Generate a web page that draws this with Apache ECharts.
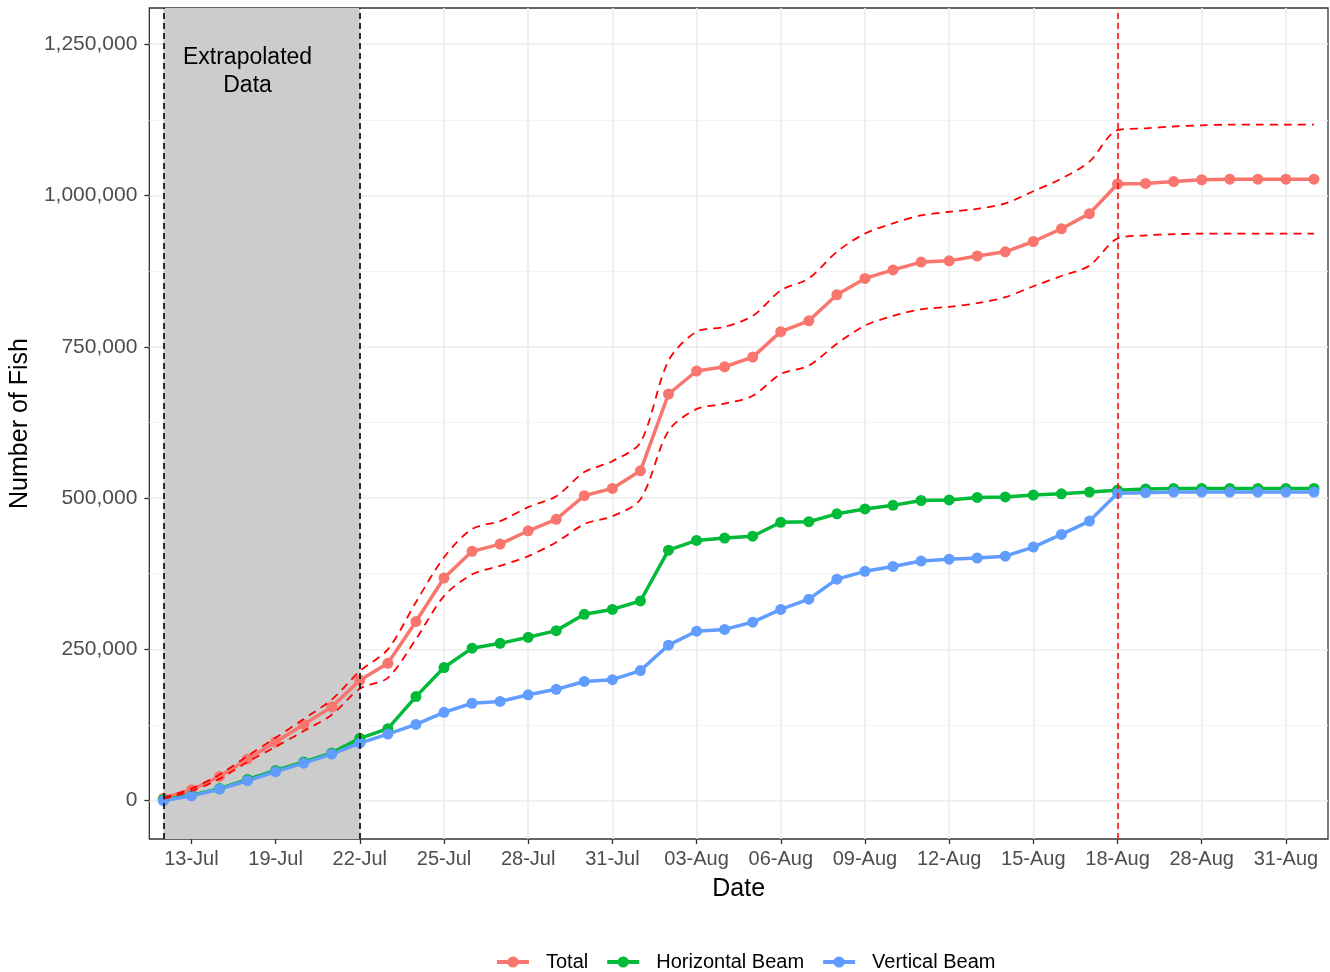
<!DOCTYPE html>
<html><head><meta charset="utf-8">
<script src="https://cdn.jsdelivr.net/npm/echarts@6/dist/echarts.min.js"></script>
<style>html,body{margin:0;padding:0;background:#fff}#chart{width:1330px;height:972px}</style>
</head><body><div id="chart"></div>
<script>
const dates = ['11-Jul','13-Jul','15-Jul','17-Jul','19-Jul','20-Jul','21-Jul','22-Jul','23-Jul','24-Jul',
  '25-Jul','26-Jul','27-Jul','28-Jul','29-Jul','30-Jul','31-Jul','01-Aug','02-Aug','03-Aug',
  '04-Aug','05-Aug','06-Aug','07-Aug','08-Aug','09-Aug','10-Aug','11-Aug','12-Aug','13-Aug',
  '14-Aug','15-Aug','16-Aug','17-Aug','18-Aug','21-Aug','25-Aug','28-Aug','29-Aug','30-Aug',
  '31-Aug','01-Sep'];
const tickDates = ['13-Jul','19-Jul','22-Jul','25-Jul','28-Jul','31-Jul','03-Aug','06-Aug','09-Aug',
  '12-Aug','15-Aug','18-Aug','28-Aug','31-Aug'];
const totalValues = [4000,18000,40000,69000,97000,126000,155000,199000,227000,296000,
  368000,412000,424000,446000,465000,504000,516000,545000,672000,710000,
  717000,733000,775000,793000,836000,863000,877000,890000,892000,900000,
  907000,924000,945000,970000,1019000,1020000,1023000,1026000,1027000,1027000,
  1027000,1027000];
const upperCI = [5000,20000,43000,74000,104000,135000,167000,214000,250000,328000,
  402000,449000,462000,485000,503000,543000,561000,592000,727000,775000,
  783000,801000,843000,863000,907000,937000,954000,967000,973000,978000,
  987000,1007000,1028000,1056000,1108000,1111000,1114000,1116000,1117000,1117000,
  1117000,1117000];
const lowerCI = [3000,16000,36000,64000,89000,115000,142000,185000,203000,267000,
  338000,374000,388000,404000,427000,457000,470000,498000,611000,647000,
  656000,669000,705000,719000,755000,785000,801000,812000,816000,822000,
  832000,850000,867000,884000,929000,934000,936000,937000,937000,937000,
  937000,937000];
const horizontalValues = [2000,9000,20000,35000,50000,64000,79000,103000,119000,172000,
  220000,252000,260000,270000,281000,308000,316000,330000,414000,430000,
  434000,437000,460000,461000,474000,482000,488000,496000,497000,501000,
  502000,505000,507000,510000,513000,515000,516000,516000,516000,516000,
  516000,516000];
const verticalValues = [0,8000,19000,33000,48000,62000,77000,95000,110000,126000,
  146000,161000,164000,175000,184000,197000,200000,215000,257000,280000,
  283000,295000,316000,333000,366000,379000,387000,396000,399000,401000,
  404000,419000,440000,462000,508000,509000,510000,510000,510000,510000,
  510000,510000];
const yTicks = [0,250000,500000,750000,1000000,1250000];
const yMinorTicks = [125000,375000,625000,875000,1125000];
const extrapStart = '11-Jul', extrapEnd = '22-Jul', cutoffDate = '18-Aug';
const annotationAt = ['17-Jul', 1205000];

const FONT = 'Liberation Sans, Arial, sans-serif';
const COLORS = {total:'#F8766D', horiz:'#00BA38', vert:'#619CFF', ci:'#FF0000'};
const isTick = (i, v) => tickDates.indexOf(v) >= 0;

const gridLineData = []
  .concat(tickDates.map(d => ({xAxis: d, lineStyle:{color:'#EBEBEB', width:1.6, type:'solid'}})))
  .concat(yTicks.map(v => ({yAxis: v, lineStyle:{color:'#EBEBEB', width:1.6, type:'solid'}})))
  .concat(yMinorTicks.map(v => ({yAxis: v, lineStyle:{color:'#F2F2F2', width:0.9, type:'solid'}})));

const chart = echarts.init(document.getElementById('chart'), null, {renderer:'canvas'});
const mainSeries = (name, data, color) => ({
  name, type:'line', data, z:2, symbol:'circle', symbolSize:11, showAllSymbol:true,
  lineStyle:{color, width:3.5}, itemStyle:{color, borderWidth:0}, emphasis:{disabled:true}
});
const ciSeries = (name, data) => ({
  name, type:'line', data, z:3, symbol:'none', smooth:0.3,
  lineStyle:{color:COLORS.ci, width:1.8, type:[8,6]}, emphasis:{disabled:true}, silent:true
});

chart.setOption({
  animation:false,
  backgroundColor:'#fff',
  textStyle:{fontFamily:FONT},
  grid:{left:148, right:2, top:8, bottom:133, show:true, borderColor:'#333333', borderWidth:1.3, containLabel:false},
  legend:{
    data:['Total','Horizontal Beam','Vertical Beam'],
    left:490, top:947, itemWidth:32, itemHeight:14, itemGap:17,
    lineStyle:{width:4},
    textStyle:{fontSize:20, color:'#000', fontFamily:FONT, padding:[0,0,0,12]}
  },
  xAxis:{
    type:'category', data:dates, boundaryGap:true,
    axisLine:{show:false, onZero:false},
    axisTick:{show:true, alignWithLabel:true, interval:isTick, length:5, lineStyle:{color:'#333', width:1.3}},
    axisLabel:{interval:isTick, color:'#4D4D4D', fontSize:20, margin:10, fontFamily:FONT},
    splitLine:{show:false},
    name:'Date', nameLocation:'middle', nameGap:38,
    nameTextStyle:{fontSize:25, color:'#000', fontFamily:FONT}
  },
  yAxis:{
    type:'value', min:-63300, max:1309800,
    axisLine:{show:false, onZero:false},
    axisTick:{show:true, customValues:yTicks, length:5, lineStyle:{color:'#333', width:1.3}},
    axisLabel:{customValues:yTicks, color:'#4D4D4D', fontSize:21, margin:12, fontFamily:FONT,
      formatter:v => Number(v).toLocaleString('en-US')},
    splitLine:{show:false},
    name:'Number of Fish', nameLocation:'middle', nameGap:106, nameRotate:90,
    nameTextStyle:{fontSize:25, color:'#000', fontFamily:FONT}
  },
  series:[
    {type:'line', data:[], silent:true,
      markLine:{silent:true, z:0, symbol:['none','none'], label:{show:false}, animation:false, data:gridLineData}},
    {type:'line', data:[], silent:true,
      markArea:{silent:true, z:1, itemStyle:{color:'#CCCCCC'}, label:{show:false}, data:[[{xAxis:extrapStart},{xAxis:extrapEnd}]]}},
    mainSeries('Total', totalValues, COLORS.total),
    mainSeries('Horizontal Beam', horizontalValues, COLORS.horiz),
    mainSeries('Vertical Beam', verticalValues, COLORS.vert),
    ciSeries('Upper CI', upperCI),
    ciSeries('Lower CI', lowerCI),
    {type:'line', data:[], silent:true,
      markLine:{silent:true, z:4, symbol:['none','none'], label:{show:false}, animation:false, data:[
        {xAxis:extrapStart, lineStyle:{color:'#1A1A1A', width:1.8, type:[6,4]}},
        {xAxis:extrapEnd, lineStyle:{color:'#1A1A1A', width:1.8, type:[6,4]}},
        {xAxis:cutoffDate, lineStyle:{color:'#FF0000', width:1.5, type:[6,4]}}
      ]},
      markPoint:{silent:true, z:5, animation:false, symbol:'rect', symbolSize:1, itemStyle:{color:'rgba(0,0,0,0)'},
        data:[{coord:annotationAt, label:{show:true, position:'inside', formatter:'Extrapolated\nData',
          fontSize:23, lineHeight:28, color:'#000', fontFamily:FONT, align:'center'}}]}
    }
  ]
});
</script></body></html>
